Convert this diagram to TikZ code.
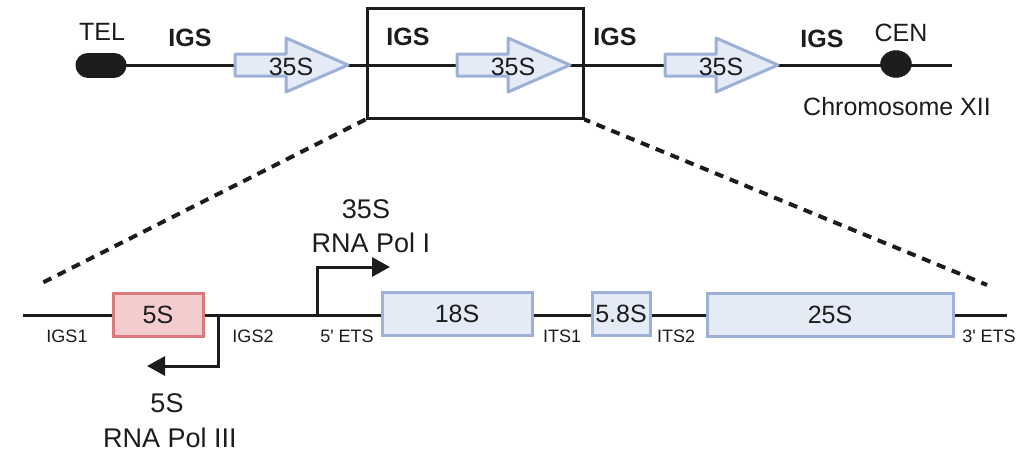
\documentclass[tikz,border=0pt]{standalone}
\usepackage{fontspec}
\setmainfont{Liberation Sans}[Ligatures=TeXOff]
\usetikzlibrary{arrows.meta,shapes.geometric}
\definecolor{bluefill}{HTML}{E4EBF7}
\definecolor{bluedraw}{HTML}{9DB0D8}
\definecolor{pinkfill}{HTML}{F3CDCD}
\definecolor{pinkdraw}{HTML}{DB7A7D}
\definecolor{ink}{HTML}{1C1C1C}
\begin{document}
\begin{tikzpicture}[x=1pt,y=-1pt,
  dnaline/.style={line width=3pt,draw=ink},
  dashline/.style={line width=4pt,draw=ink,dash pattern=on 9pt off 7pt},
  bigarrow/.style={draw=bluedraw,fill=bluefill,line width=3pt,line join=round},
  genebox/.style={draw=bluedraw,fill=bluefill,line width=3pt,minimum height=43pt,inner sep=0pt},
  pinkbox/.style={draw=pinkdraw,fill=pinkfill,line width=3pt,minimum height=43pt,inner sep=0pt},
  lbig/.style={text=ink,inner sep=0pt,font=\fontsize{25}{30}\selectfont},
  lbold/.style={text=ink,inner sep=0pt,font=\fontsize{25}{30}\selectfont\bfseries},
  lpol/.style={text=ink,inner sep=0pt,font=\fontsize{27}{32}\selectfont},
  lsmall/.style={text=ink,inner sep=0pt,font=\fontsize{18}{22}\selectfont},
  promoter/.style={line width=3pt,draw=ink,-{Triangle[length=18pt,width=19pt]}}
]
\useasboundingbox (0,0) rectangle (1028,463);

% ---------- top: chromosome XII ----------
\coordinate (tell) at (88,65);
\coordinate (telr) at (114,65);
\draw[ink,line width=25pt,line cap=round] (tell) -- (telr);
\coordinate (topend) at (952,65);
\draw[dnaline] (telr) -- (topend);

\draw[bigarrow] (235,54) -- ++(51,0) -- ++(0,-16) -- ++(62,27) -- ++(-62,27) -- ++(0,-16) -- ++(-51,0) -- cycle;
\node[lbig] (a1) at (291,67) {35S};
\draw[bigarrow] (457,54) -- ++(51,0) -- ++(0,-16) -- ++(62,27) -- ++(-62,27) -- ++(0,-16) -- ++(-51,0) -- cycle;
\node[lbig] (a2) at (513,67) {35S};
\draw[bigarrow] (665,54) -- ++(51,0) -- ++(0,-16) -- ++(62,27) -- ++(-62,27) -- ++(0,-16) -- ++(-51,0) -- cycle;
\node[lbig] (a3) at (721,67) {35S};

\node[ellipse,draw=ink,fill=ink,minimum width=31pt,minimum height=27pt,inner sep=0pt] (cen) at (896,64) {};

\node[draw=ink,line width=3pt,minimum width=216pt,minimum height=110pt,inner sep=0pt] (zoombox) at (475,63) {};

\node[lbig] (teltxt) at (102,32) {TEL};
\node[lbig] (centxt) at (901,33) {CEN};
\node[lbold] (igs1) at (190,38) {IGS};
\node[lbold] (igs2) at (408,37) {IGS};
\node[lbold] (igs3) at (615,37) {IGS};
\node[lbold] (igs4) at (822,39) {IGS};
\node[lbig] (chr) at (897,107) {Chromosome XII};

% ---------- zoom lines ----------
\coordinate (dl) at (42,283);
\coordinate (dr) at (987,285);
\draw[dashline] (zoombox.south west) -- (dl);
\draw[dashline,dash phase=3pt] (zoombox.south east) -- (dr);

% ---------- bottom: rDNA repeat ----------
\coordinate (bstart) at (23,315);
\coordinate (bend) at (1007,315);
\draw[dnaline] (bstart) -- (bend);

\coordinate (p3) at (218,315);
\coordinate (p3tip) at (147,366);
\draw[promoter] (p3) |- (p3tip);
\coordinate (p1) at (317,315);
\coordinate (p1tip) at (390,267);
\draw[promoter] (p1) |- (p1tip);

\node[pinkbox,minimum width=90pt] (r5s) at (158,315) {};
\node[lbig] at (r5s) {5S};
\node[genebox,minimum width=150pt] (r18s) at (457,314) {};
\node[lbig] at (r18s) {18S};
\node[genebox,minimum width=58pt] (r58s) at (621,314) {};
\node[lbig] at (r58s) {5.8S};
\node[genebox,minimum width=246pt] (r25s) at (830,315) {};
\node[lbig] at (r25s) {25S};

\node[lsmall] (t1) at (67,336) {IGS1};
\node[lsmall] (t2) at (253,336) {IGS2};
\node[lsmall] (t3) at (347,336) {5' ETS};
\node[lsmall] (t4) at (562,336) {ITS1};
\node[lsmall] (t5) at (676,336) {ITS2};
\node[lsmall] (t6) at (989,336) {3' ETS};

\node[lpol] (pol1a) at (366,209) {35S};
\node[lpol] (pol1b) at (371,243) {RNA Pol I};
\node[lpol] (pol3a) at (167,403) {5S};
\node[lpol] (pol3b) at (170,438) {RNA Pol III};
\end{tikzpicture}
\end{document}
